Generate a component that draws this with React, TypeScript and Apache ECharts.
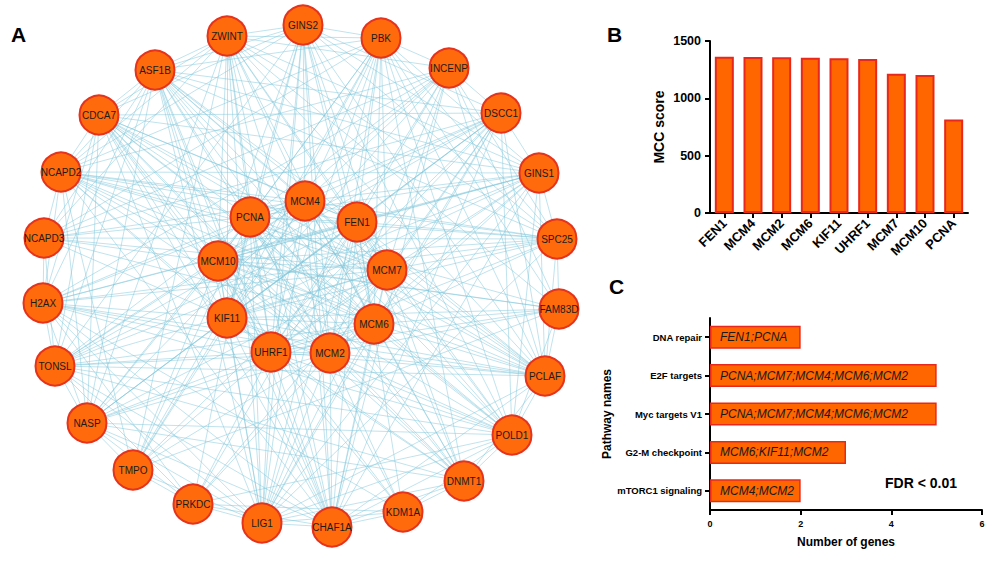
import React, { useEffect, useRef } from "react";
import * as echarts from "echarts";

// ---------- Panel A: PPI network ----------
const nodeNames = [
  "FEN1", "MCM4", "MCM2", "MCM6", "KIF11", "UHRF1", "MCM7", "MCM10", "PCNA",
  "GINS2", "PBK", "INCENP", "DSCC1", "GINS1", "SPC25", "FAM83D", "PCLAF", "POLD1",
  "DNMT1", "KDM1A", "CHAF1A", "LIG1", "PRKDC", "TMPO", "NASP", "TONSL", "H2AX",
  "NCAPD3", "NCAPD2", "CDCA7", "ASF1B", "ZWINT",
];
const nodeX = [
  357, 305, 330, 374, 227, 271, 387, 218, 250,
  303, 381, 449, 501, 539, 557, 559, 545, 512,
  464, 403, 332, 262, 193, 133, 87, 55, 43,
  44, 61, 99, 155, 227,
];
const nodeY = [
  222, 201, 353, 324, 318, 352, 270, 261, 217,
  25, 38, 68, 113, 173, 239, 309, 376, 435,
  481, 512, 527, 523, 504, 470, 423, 366, 303,
  238, 172, 115, 70, 36,
];
const adjacency = [
  "FEN1: MCM4, MCM2, MCM6, KIF11, UHRF1, MCM7, MCM10, PCNA, GINS2, PBK, INCENP, DSCC1, GINS1, SPC25, PCLAF, POLD1, DNMT1, CHAF1A, LIG1, PRKDC, NASP, TONSL, H2AX, NCAPD2, CDCA7, ASF1B, ZWINT, KDM1A",
  "MCM4: MCM2, MCM6, KIF11, UHRF1, MCM7, MCM10, PCNA, GINS2, PBK, DSCC1, GINS1, SPC25, PCLAF, POLD1, DNMT1, CHAF1A, LIG1, TMPO, NASP, TONSL, H2AX, NCAPD3, NCAPD2, CDCA7, ASF1B, ZWINT, INCENP",
  "MCM2: MCM6, KIF11, UHRF1, MCM7, MCM10, PCNA, GINS2, PBK, INCENP, DSCC1, GINS1, FAM83D, PCLAF, POLD1, DNMT1, KDM1A, CHAF1A, LIG1, PRKDC, NASP, TONSL, H2AX, NCAPD2, CDCA7, ASF1B, ZWINT",
  "MCM6: KIF11, UHRF1, MCM7, MCM10, PCNA, GINS2, PBK, DSCC1, GINS1, SPC25, FAM83D, PCLAF, POLD1, DNMT1, CHAF1A, LIG1, TMPO, NASP, TONSL, NCAPD3, NCAPD2, CDCA7, ASF1B, ZWINT",
  "KIF11: UHRF1, MCM7, MCM10, PCNA, GINS2, PBK, INCENP, DSCC1, GINS1, SPC25, FAM83D, PCLAF, POLD1, DNMT1, CHAF1A, LIG1, TMPO, NASP, H2AX, NCAPD3, NCAPD2, CDCA7, ASF1B, ZWINT",
  "UHRF1: MCM7, MCM10, PCNA, GINS2, PBK, INCENP, DSCC1, GINS1, SPC25, FAM83D, PCLAF, POLD1, DNMT1, KDM1A, CHAF1A, LIG1, PRKDC, TMPO, NASP, TONSL, H2AX, NCAPD2, CDCA7, ASF1B, ZWINT",
  "MCM7: MCM10, PCNA, GINS2, PBK, INCENP, DSCC1, GINS1, SPC25, PCLAF, POLD1, DNMT1, CHAF1A, LIG1, PRKDC, NASP, TONSL, H2AX, NCAPD3, NCAPD2, CDCA7, ASF1B, ZWINT",
  "MCM10: PCNA, GINS2, PBK, INCENP, DSCC1, GINS1, SPC25, FAM83D, PCLAF, POLD1, DNMT1, CHAF1A, LIG1, TMPO, NASP, TONSL, NCAPD2, CDCA7, ASF1B, ZWINT",
  "PCNA: GINS2, PBK, DSCC1, GINS1, PCLAF, POLD1, DNMT1, KDM1A, CHAF1A, LIG1, PRKDC, TMPO, NASP, TONSL, H2AX, NCAPD3, NCAPD2, CDCA7, ASF1B, ZWINT, INCENP, SPC25",
  "GINS2: PBK, DSCC1, GINS1, PCLAF, POLD1, CHAF1A, LIG1, ASF1B, ZWINT, CDCA7, TONSL, NCAPD2, SPC25",
  "PBK: INCENP, GINS1, SPC25, FAM83D, PCLAF, POLD1, LIG1, NCAPD2, NCAPD3, ZWINT, ASF1B, TMPO, DNMT1",
  "INCENP: DSCC1, SPC25, FAM83D, PCLAF, NCAPD2, NCAPD3, ZWINT, CHAF1A, H2AX",
  "DSCC1: GINS1, PCLAF, POLD1, CHAF1A, LIG1, NASP, TONSL, ASF1B, CDCA7, NCAPD3, TMPO",
  "GINS1: SPC25, PCLAF, POLD1, CHAF1A, LIG1, TONSL, ASF1B, CDCA7, NCAPD2, H2AX, ZWINT",
  "SPC25: FAM83D, PCLAF, NCAPD2, ZWINT, ASF1B, NCAPD3, LIG1, H2AX",
  "FAM83D: PCLAF, POLD1, ZWINT, NCAPD2, TMPO, NCAPD3",
  "PCLAF: POLD1, DNMT1, CHAF1A, LIG1, TONSL, ASF1B, CDCA7, NCAPD2, ZWINT, H2AX",
  "POLD1: DNMT1, KDM1A, CHAF1A, LIG1, PRKDC, NASP, TONSL, ASF1B, H2AX, CDCA7",
  "DNMT1: KDM1A, CHAF1A, LIG1, NASP, TONSL, CDCA7, ASF1B",
  "KDM1A: CHAF1A, PRKDC, H2AX, LIG1, CDCA7",
  "CHAF1A: LIG1, PRKDC, NASP, TONSL, H2AX, ASF1B, CDCA7, NCAPD2, ZWINT",
  "LIG1: PRKDC, NASP, TONSL, H2AX, ASF1B, CDCA7, ZWINT, TMPO",
  "PRKDC: TMPO, H2AX, NASP, TONSL",
  "TMPO: NASP, NCAPD2, ZWINT",
  "NASP: TONSL, H2AX, ASF1B, CDCA7, ZWINT, NCAPD2",
  "TONSL: H2AX, ASF1B, CDCA7, NCAPD3",
  "H2AX: NCAPD3, NCAPD2, ASF1B, CDCA7",
  "NCAPD3: NCAPD2, ZWINT, ASF1B",
  "NCAPD2: CDCA7, ZWINT, ASF1B",
  "CDCA7: ASF1B, ZWINT",
  "ASF1B: ZWINT",
];

// ---------- Panel B: MCC scores ----------
const mccGenes = ["FEN1", "MCM4", "MCM2", "MCM6", "KIF11", "UHRF1", "MCM7", "MCM10", "PCNA"];
const mccScores = [1362, 1361, 1358, 1354, 1350, 1344, 1214, 1204, 816];
const mccMin = 0;
const mccMax = 1500;
const mccStep = 500;

// ---------- Panel C: pathways ----------
const pathways = ["DNA repair", "E2F targets", "Myc targets V1", "G2-M checkpoint", "mTORC1 signaling"];
const pathwayCounts = [2, 5, 5, 3, 2];
const pathwayGenes = [
  "FEN1;PCNA",
  "PCNA;MCM7;MCM4;MCM6;MCM2",
  "PCNA;MCM7;MCM4;MCM6;MCM2",
  "MCM6;KIF11;MCM2",
  "MCM4;MCM2",
];
const genesMin = 0;
const genesMax = 6;
const genesStep = 2;

const FONT = "'Liberation Sans', Arial, Helvetica, sans-serif";

function buildLinks() {
  const seen = new Set<string>();
  const links: { source: string; target: string }[] = [];
  adjacency.forEach((row) => {
    const [src, rest] = row.split(":");
    rest.split(",").map((s) => s.trim()).filter(Boolean).forEach((t) => {
      const key = [src.trim(), t].sort().join("|");
      if (!seen.has(key)) {
        seen.add(key);
        links.push({ source: src.trim(), target: t });
      }
    });
  });
  return links;
}

export default function App() {
  const ref = useRef<HTMLDivElement>(null);
  useEffect(() => {
    if (!ref.current) return;
    const chart = echarts.init(ref.current, undefined, { renderer: "svg" });
    const black = "#000";
    const axisLine = { show: true, lineStyle: { color: black, width: 2 } };
    const option: any = {
      animation: false,
      backgroundColor: "#fff",
      textStyle: { fontFamily: FONT },
      grid: [
        { left: 0, top: 0, width: 600, height: 566 },
        { left: 710, top: 41, width: 258, height: 172 },
        { left: 710, top: 318, right: 18, height: 192 },
      ],
      xAxis: [
        { gridIndex: 0, type: "value", min: 0, max: 600, show: false },
        {
          gridIndex: 1,
          type: "category",
          data: mccGenes,
          axisLine,
          axisTick: { show: true, alignWithLabel: true, length: 5, lineStyle: { color: black, width: 2 } },
          axisLabel: { rotate: 45, fontWeight: "bold", fontSize: 13, color: black, margin: 8, fontFamily: FONT },
        },
        {
          gridIndex: 2,
          type: "value",
          min: genesMin,
          max: genesMax,
          interval: genesStep,
          name: "Number of genes",
          nameLocation: "middle",
          nameGap: 26,
          nameTextStyle: { fontWeight: "bold", fontSize: 12, color: black, fontFamily: FONT },
          axisLine,
          axisTick: { show: true, length: 5, lineStyle: { color: black, width: 2 } },
          axisLabel: { fontWeight: "bold", fontSize: 9, color: black, margin: 9, fontFamily: FONT },
          splitLine: { show: false },
        },
      ],
      yAxis: [
        { gridIndex: 0, type: "value", min: 0, max: 566, inverse: true, show: false },
        {
          gridIndex: 1,
          type: "value",
          min: mccMin,
          max: mccMax,
          interval: mccStep,
          name: "MCC score",
          nameLocation: "middle",
          nameGap: 44,
          nameTextStyle: { fontWeight: "bold", fontSize: 14, color: black, fontFamily: FONT },
          axisLine,
          axisTick: { show: true, length: 5, lineStyle: { color: black, width: 2 } },
          axisLabel: {
            fontWeight: "bold",
            fontSize: 12.5,
            color: black,
            margin: 9,
            fontFamily: FONT,
            formatter: (v: number) => String(v),
          },
          splitLine: { show: false },
        },
        {
          gridIndex: 2,
          type: "category",
          data: pathways,
          inverse: true,
          name: "Pathway names",
          nameLocation: "middle",
          nameGap: 96,
          nameTextStyle: { fontWeight: "bold", fontSize: 12, color: black, fontFamily: FONT },
          axisLine,
          axisTick: { show: true, alignWithLabel: true, length: 5, lineStyle: { color: black, width: 2 } },
          axisLabel: { fontWeight: "bold", fontSize: 9.5, color: black, margin: 8, fontFamily: FONT },
        },
      ],
      series: [
        {
          type: "graph",
          coordinateSystem: "cartesian2d",
          xAxisIndex: 0,
          yAxisIndex: 0,
          symbol: "circle",
          symbolSize: 39,
          silent: true,
          data: nodeNames.map((n, i) => ({ name: n, value: [nodeX[i], nodeY[i]] })),
          links: buildLinks(),
          itemStyle: { color: "#ff6a0c", borderColor: "#e5331d", borderWidth: 2 },
          label: { show: true, position: "inside", fontSize: 10, color: "#1c1c1c", fontFamily: FONT },
          lineStyle: { color: "#7fc6da", width: 0.7, opacity: 0.7, curveness: 0 },
          emphasis: { disabled: true },
        },
        {
          type: "bar",
          xAxisIndex: 1,
          yAxisIndex: 1,
          data: mccScores,
          barWidth: 19,
          itemStyle: { color: "#ff6600", borderColor: "#e8281c", borderWidth: 2 },
          silent: true,
        },
        {
          type: "bar",
          xAxisIndex: 2,
          yAxisIndex: 2,
          data: pathwayCounts,
          barWidth: 23,
          itemStyle: { color: "#ff6600", borderColor: "#e8281c", borderWidth: 1.5 },
          label: {
            show: true,
            position: "insideLeft",
            distance: 10,
            formatter: (p: any) => pathwayGenes[p.dataIndex],
            fontStyle: "italic",
            fontSize: 12,
            color: "#1a1a1a",
            fontFamily: FONT,
          },
          silent: true,
        },
      ],
      graphic: [
        { type: "text", left: 11, top: 24, style: { text: "A", fontSize: 21, fontWeight: "bold", fill: black, fontFamily: FONT } },
        { type: "text", left: 607, top: 24, style: { text: "B", fontSize: 21, fontWeight: "bold", fill: black, fontFamily: FONT } },
        { type: "text", left: 609, top: 276, style: { text: "C", fontSize: 21, fontWeight: "bold", fill: black, fontFamily: FONT } },
        { type: "text", left: 885, top: 476, style: { text: "FDR < 0.01", fontSize: 14, fontWeight: "bold", fill: black, fontFamily: FONT } },
      ],
    };
    chart.setOption(option);
    return () => chart.dispose();
  }, []);
  return (
    <div
      ref={ref}
      style={{ position: "fixed", left: 0, top: 0, width: 1000, height: 566, background: "#fff" }}
    />
  );
}
